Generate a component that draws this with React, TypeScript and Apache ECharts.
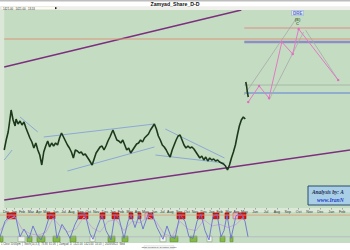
import React, { useEffect, useRef } from "react";
import * as echarts from "echarts";

// ---- price history (bar index, price) ----
const priceX = [0,2,4,5,7,9,11,12,14,16,18,20,22,24,26,28,30,32,34,36,38,40,42,44,46,48,50,52,54,56,58,60,62,64,66,68,70,72,74,76,78,80,82,84,86,89,91,93,95,97,99,101,103,105,107,110,112,114,116,118,120,122,124,126,128,130,132,134,136,138,140,142,144,146,148,150,152,154,156,158,160,162,164,166,168,170,172,174,176,178,180,182,184,186,188,190,192,194,196,198,200,202,204,206,208,210,212,214,216,218,220,222,224,226,228,230,232,234,236,238,240,242,244];
const priceY = [1120,1220,1300,1370,1520,1420,1360,1430,1380,1410,1370,1400,1340,1290,1240,1200,1140,1190,1120,1070,970,1100,1160,1210,1150,1190,1160,1190,1170,1240,1290,1250,1210,1170,1140,1100,1040,1120,1110,1090,1100,1070,1080,1050,1020,970,1030,1090,1120,1150,1160,1120,1160,1210,1250,1320,1270,1220,1210,1190,1220,1170,1120,1140,1090,1120,1150,1180,1190,1220,1200,1240,1260,1280,1320,1350,1380,1330,1260,1220,1170,1150,1120,1080,1050,1120,1170,1220,1260,1270,1220,1170,1140,1160,1140,1150,1130,1100,1070,1040,1060,1020,1050,1010,1040,1020,1030,1010,1020,1000,990,980,960,920,970,1040,1100,1170,1270,1360,1420,1450,1430];
const gapX = [244.5, 245.3, 246.1, 247];
const gapY = [1800, 1760, 1700, 1650];

// ---- projection zig-zag ----
const zigX = [247, 258, 268, 281, 292, 298, 338];
const zigY = [1600, 1760, 1640, 2200, 2080, 2330, 1820];

// ---- drawn lines [x1, p1, x2, p2] ----
const channelUpper = [0, 1950, 240, 2520];
const channelLower = [0, 620, 350, 1120];
const blueTrends = [
  [40, 1250, 152, 1380],
  [64, 910, 152, 1150],
  [163, 1330, 223, 1040],
  [153, 1070, 223, 990],
  [16, 1450, 34, 1300],
  [0, 1020, 8, 1120],
];
const greyProj = [
  [243, 1670, 296, 2440],
  [268, 1620, 303, 2300],
  [305, 2320, 338, 1820],
];
const levelSalmon = 2230;
const levelSalmonTop = 2340;
const levelThick = 2200;
const levelGreen = 1770;
const levelBlue = 1690;

// ---- month ticks ----
const monthPos = [2,10,18,27,35,43,52,60,68,77,85,93,102,110,118,127,135,143,152,160,168,177,185,193,202,210,218,227,235,243,254,265,276,287,298,309,320,331,342];
const monthLabels = ["Dec","Jan","Feb","Mar","Apr","May","Jun","Jul","Aug","Sep","Oct","Nov","Dec","Jan","Feb","Mar","Apr","May","Jun","Jul","Aug","Sep","Oct","Nov","Dec","Jan","Feb","Mar","Apr","May","Jun","Jul","Aug","Sep","Oct","Nov","Dec","Jan","Feb"];

// ---- stochastic panel ----
const oscX = [0,5,11,16,20,24,29,33,37,41,45,50,54,57,62,66,70,75,80,85,90,93,97,102,106,111,115,119,124,128,131,135,139,143,148,152,157,163,167,171,175,180,185,189,193,197,201,205,209,213,217,221,224,227,231,236,241,245,248];
const oscK = [20,70,92,80,20,45,15,55,25,10,40,92,85,15,60,40,15,60,92,95,30,12,50,90,40,10,92,80,15,70,90,50,90,45,92,95,50,12,55,20,15,92,70,20,15,70,93,40,10,85,93,20,40,90,15,88,95,70,20];
const sigX = [0,8,15,22,30,38,46,53,60,68,76,84,92,100,108,116,124,132,140,148,156,164,172,180,188,196,204,212,220,228,236,244];
const sigD = [40,75,85,45,30,25,35,80,55,35,45,85,50,35,70,75,40,70,65,85,70,30,20,70,45,40,75,55,60,50,60,85];
const redZones = [[7,16],[47,55],[78,88],[100,105],[112,119],[129,133],[138,141],[148,153],[177,185],[197,204],[213,219],[225,229],[238,246]];
const pinkZones = [[145,148],[233,238]];
const greenZones = [[0,3],[27,32],[37,45],[53,60],[70,76],[108,115],[122,128],[170,178],[190,197],[220,225],[230,233]];
const paleZones = [[18,25],[90,95],[160,166],[207,212]];
const oscHigh = 90;
const oscLow = 20;

const BG = "#c4ddc2";

function seg(s: number[], color: string, width: number, xi = 0, z = 3) {
  return {
    type: "line", xAxisIndex: xi, yAxisIndex: xi, silent: true, showSymbol: false, z,
    data: [[s[0], s[1]], [s[2], s[3]]],
    lineStyle: { color, width },
  };
}

function zones(list: number[][], lo: number, hi: number, fill: string, border: string) {
  return list.map(([a, b]) => [
    { xAxis: a, yAxis: lo, itemStyle: { color: fill, borderColor: border, borderWidth: 0.6 } },
    { xAxis: b, yAxis: hi },
  ]);
}

export default function App() {
  const ref = useRef<HTMLDivElement>(null);
  useEffect(() => {
    const chart = echarts.init(ref.current!, null, { renderer: "svg" });
    const series: any[] = [];
    series.push(seg(channelUpper, "#7d2f7f", 1.6));
    series.push(seg(channelLower, "#7d2f7f", 1.6));
    series.push(seg([0, levelSalmon, 350, levelSalmon], "#d99478", 1));
    series.push(seg([243, levelSalmonTop, 350, levelSalmonTop], "#e08a8a", 1));
    series.push(seg([243, levelThick, 350, levelThick], "#8e8ec2", 2.4));
    series.push(seg([243, levelGreen, 350, levelGreen], "#9fb09c", 0.8));
    series.push(seg([243, levelBlue, 350, levelBlue], "#5a7fd6", 1));
    blueTrends.forEach((t) => series.push(seg(t, "#86a2d6", 0.9)));
    greyProj.forEach((t) => series.push(seg(t, "#a8a8a8", 0.8)));
    series.push({
      type: "line", xAxisIndex: 0, yAxisIndex: 0, silent: true, z: 5,
      data: zigX.map((x, i) => [x, zigY[i]]),
      symbol: "circle", symbolSize: 2.5, showSymbol: true,
      itemStyle: { color: "#e06ec0" },
      lineStyle: { color: "#e27ac6", width: 1 },
    });
    series.push({
      type: "line", xAxisIndex: 0, yAxisIndex: 0, silent: true, showSymbol: false, z: 6,
      data: priceX.map((x, i) => [x, priceY[i]]),
      lineStyle: { color: "#1d391b", width: 1.6 },
    });
    series.push({
      type: "line", xAxisIndex: 0, yAxisIndex: 0, silent: true, showSymbol: false, z: 6,
      data: gapX.map((x, i) => [x, gapY[i]]),
      lineStyle: { color: "#1d391b", width: 1.6 },
    });
    series.push({
      type: "scatter", xAxisIndex: 0, yAxisIndex: 0, silent: true, symbolSize: 0, z: 7,
      data: [[297, 2490, "DRE"]],
      label: {
        show: true, position: "inside",
        formatter: (p: any) => p.data[2],
        fontFamily: "Liberation Sans", fontSize: 4.5, fontWeight: "bold",
        color: "#2a48c8", backgroundColor: "#e6ecf8", borderColor: "#7f95d0", borderWidth: 0.4, padding: [0, 1],
      },
    });
    series.push({
      type: "scatter", xAxisIndex: 0, yAxisIndex: 0, silent: true, symbolSize: 0, z: 7,
      data: [[297, 2430, "(E)"], [297, 2385, "C"]],
      label: {
        show: true, position: "inside",
        formatter: (p: any) => p.data[2],
        fontFamily: "Liberation Sans", fontSize: 4.2, fontWeight: "bold",
        color: "#24501f",
      },
    });
    // stochastic panel
    series.push({
      type: "line", xAxisIndex: 1, yAxisIndex: 1, silent: true, showSymbol: false, z: 4,
      data: sigX.map((x, i) => [x, sigD[i]]),
      lineStyle: { color: "#c3a6d8", width: 0.9 },
    });
    series.push({
      type: "line", xAxisIndex: 1, yAxisIndex: 1, silent: true, showSymbol: false, z: 5,
      data: oscX.map((x, i) => [x, oscK[i]]),
      lineStyle: { color: "#6a6fd2", width: 0.9 },
      markArea: {
        silent: true,
        data: [
          ...zones(redZones, 78, 97, "#e3100f", "#9a0000"),
          ...zones(pinkZones, 78, 97, "#f4b6c4", "#b06070"),
          ...zones(greenZones, 4, 22, "#84bb44", "#5a8a2c"),
          ...zones(paleZones, 4, 22, "#eef4ea", "#8aa080"),
        ],
      },
    });
    series.push(seg([0, oscHigh, 350, oscHigh], "#e09a70", 0.8, 1, 2));
    series.push(seg([0, oscLow, 350, oscLow], "#b0a2cc", 0.6, 1, 2));

    chart.setOption({
      animation: false,
      backgroundColor: "#dbe8d8",
      grid: [
        { left: 0, right: 0, top: 10, height: 198, show: true, backgroundColor: BG, borderWidth: 0 },
        { left: 0, right: 0, top: 212, height: 31, show: true, backgroundColor: BG, borderWidth: 0 },
      ],
      xAxis: [
        {
          gridIndex: 0, type: "value", min: 0, max: 350,
          splitLine: { show: false },
          axisLine: { show: false },
          axisTick: { show: true, customValues: monthPos, length: 1.5, lineStyle: { color: "#666", width: 0.5 } },
          axisLabel: {
            customValues: monthPos,
            formatter: (v: number) => monthLabels[monthPos.indexOf(v)] ?? "",
            fontSize: 3.6, color: "#333", margin: 1.5, fontFamily: "Liberation Sans",
          },
        },
        { gridIndex: 1, type: "value", min: 0, max: 350, show: false },
      ],
      yAxis: [
        { gridIndex: 0, type: "value", min: 540, max: 2520, show: false },
        { gridIndex: 1, type: "value", min: 0, max: 100, show: false },
      ],
      series,
      graphic: [
        { type: "rect", shape: { x: 0, y: 0, width: 350, height: 10 }, style: { fill: "#ffffff" }, z: 10 },
        { type: "rect", shape: { x: 0, y: 0, width: 350, height: 1.5 }, style: { fill: "#bdbdbd" }, z: 11 },
        { type: "rect", shape: { x: 0, y: 6.3, width: 350, height: 3.7 }, style: { fill: "#eeeeea" }, z: 11 },
        { type: "rect", shape: { x: 1, y: 6.6, width: 58, height: 3 }, style: { fill: "#fbfbf2", stroke: "#c8c8c0", lineWidth: 0.3 }, z: 12 },
        { type: "text", x: 175, y: 4, style: { text: "Zamyad_Share_D-D", fontSize: 5.2, fontWeight: "bold", fontFamily: "Liberation Sans", fill: "#111", align: "center", verticalAlign: "middle" }, z: 13 },
        { type: "text", x: 3, y: 8.1, style: { text: "1421.00   1421.00   13.53", fontSize: 2.8, fontFamily: "Liberation Sans", fill: "#333", verticalAlign: "middle" }, z: 13 },
        { type: "polygon", shape: { points: [[55, 7], [57.5, 8.1], [55, 9.2]] }, style: { fill: "#111" }, z: 13 },
        { type: "rect", shape: { x: 0, y: 243, width: 350, height: 7 }, style: { fill: "#ffffff" }, z: 10 },
        { type: "text", x: 1, y: 244.6, style: { text: "1 Close 10:00pm  |  Stoch(14,3,3)  73.86  61.06  |  Zamyad  D  1421.00  1421.00  13.53  |  2018/08/22  Wed", fontSize: 2.6, fontFamily: "Liberation Sans", fill: "#444", verticalAlign: "middle" }, z: 12 },
        { type: "rect", shape: { x: 144, y: 245.6, width: 30, height: 3.2 }, style: { fill: "#f6f6f6", stroke: "#bbbbbb", lineWidth: 0.3 }, z: 11 },
        { type: "text", x: 159, y: 247.2, style: { text: "Chart created by Dynamic Trader", fontSize: 2.4, fontFamily: "Liberation Sans", fill: "#444", align: "center", verticalAlign: "middle" }, z: 12 },
        { type: "rect", shape: { x: 308, y: 186, width: 44, height: 19 }, style: { fill: "#a9cfe6", stroke: "#2b4a6b", lineWidth: 1 }, z: 12 },
        { type: "text", x: 312, y: 191.5, style: { text: "Analysis by: A", fontSize: 5.4, fontStyle: "italic", fontWeight: "bold", fontFamily: "Liberation Serif", fill: "#1c2a52", verticalAlign: "middle" }, z: 13 },
        { type: "text", x: 317, y: 200, style: { text: "www.IranN", fontSize: 5.6, fontStyle: "italic", fontWeight: "bold", fontFamily: "Liberation Serif", fill: "#1f40c8", verticalAlign: "middle" }, z: 13 },
      ],
    });
    return () => chart.dispose();
  }, []);
  return <div ref={ref} style={{ position: "fixed", left: 0, top: 0, width: 350, height: 250 }} />;
}
